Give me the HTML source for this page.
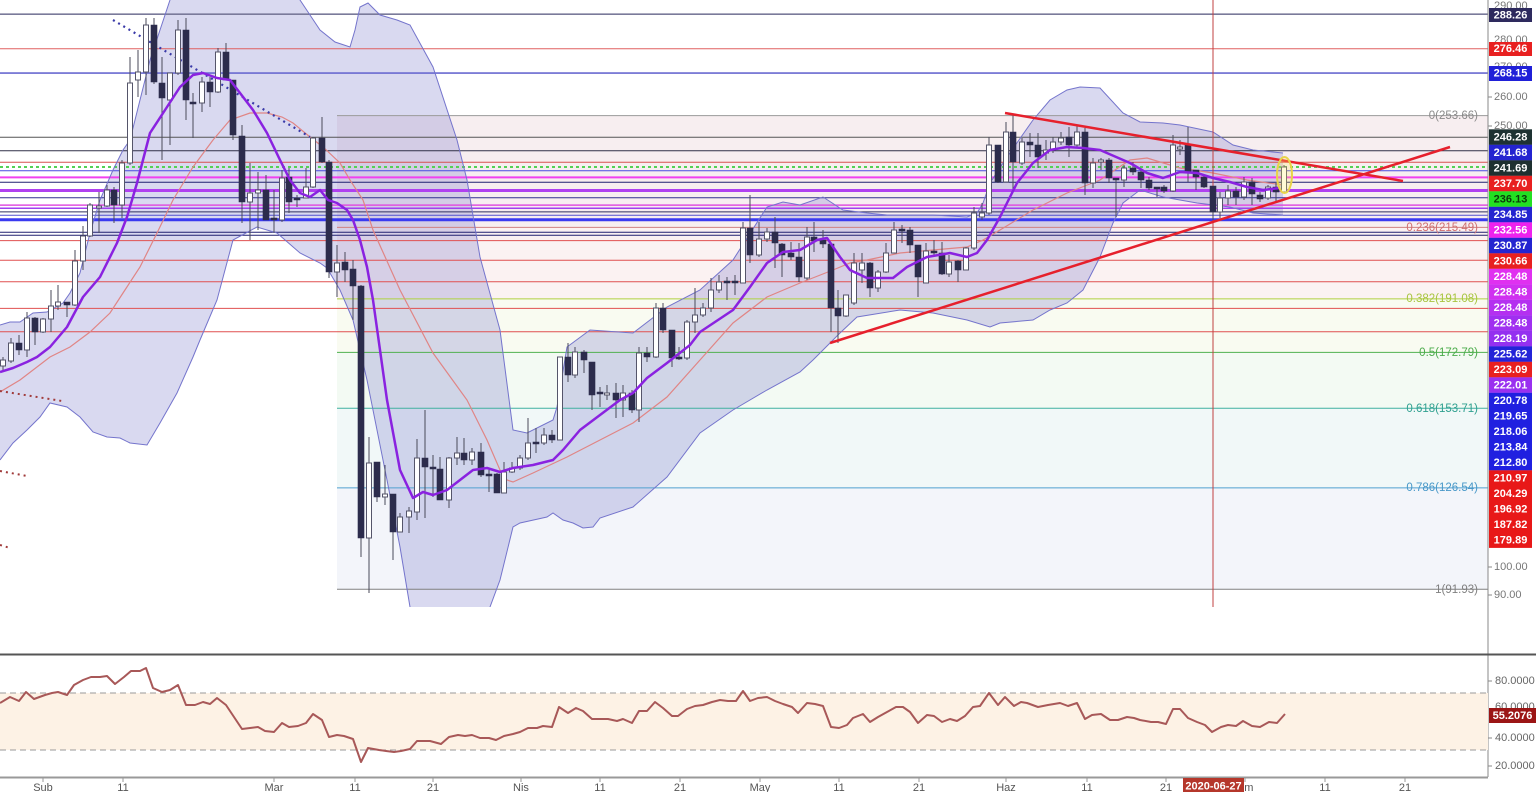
<!DOCTYPE html>
<html><head><meta charset="utf-8"><style>
html,body{margin:0;padding:0;background:#fff;width:1536px;height:792px;overflow:hidden}
svg{display:block;font-family:"Liberation Sans",Arial,sans-serif}
</style></head><body>
<svg width="1536" height="792" viewBox="0 0 1536 792" xmlns="http://www.w3.org/2000/svg">
<defs><clipPath id="mp"><rect x="0" y="0" width="1488" height="607"/></clipPath></defs>
<rect x="0" y="0" width="1536" height="792" fill="#fff"/>
<g clip-path="url(#mp)">
<!-- fib backgrounds -->
<rect x="337" y="115.6" width="1151" height="111.8" fill="#f7eef0"/>
<rect x="337" y="227.4" width="1151" height="71.5" fill="#fbf2f2"/>
<rect x="337" y="298.9" width="1151" height="53.5" fill="#f9fbf1"/>
<rect x="337" y="352.4" width="1151" height="55.9" fill="#f3faf3"/>
<rect x="337" y="408.3" width="1151" height="79.6" fill="#f1f8f8"/>
<rect x="337" y="487.9" width="1151" height="101.4" fill="#f3f5fa"/>
<!-- bollinger fill -->
<path fill="rgba(120,120,200,0.28)" stroke="none" d="M0 325L10 322L20 322L33 313L47 312L63 303L70 293L80 273L90 233L100 200L113 170L123 150L130 140L150 60L170 0L185 -30L200 -50L250 -50L290 -10L300 0L310 15L320 30L335 42L350 47L355 30L360 7L368 3L380 15L397 20L410 25L433 67L457 140L467 180L480 257L500 330L513 430L527 433L553 420L557 407L567 347L590 330L633 333L667 307L700 290L733 260L767 207L783 202L800 205L823 197L843 210L867 213L887 215L933 215L967 217L977 213L983 203L990 183L1007 157L1033 120L1050 100L1067 90L1080 87L1100 88L1123 113L1140 122L1163 123L1180 125L1213 132L1233 145L1253 150L1283 153L1283 215L1253 213L1230 207L1197 203L1163 197L1140 190L1123 203L1113 223L1100 257L1083 290L1067 303L1050 310L1033 320L1000 323L990 327L967 320L933 313L900 310L857 317L840 333L813 360L800 372L767 390L733 410L700 433L667 477L633 507L600 518L593 527L583 528L573 523L563 520L553 513L547 517L520 523L513 527L500 580L490 607L485 640L415 640L410 607L400 547L387 480L367 380L353 320L340 290L327 268L320 263L300 253L277 233L257 227L233 240L217 300L200 340L193 357L177 393L160 423L147 445L130 443L120 438L107 437L93 432L80 417L67 407L50 403L40 417L27 430L13 443L0 460Z"/>
<!-- horizontal levels -->
<g fill="none">
<path d="M0 14.2H1488" stroke="#7a7a9a" stroke-width="1.6"/>
<path d="M0 48.8H1488" stroke="#e06060" stroke-width="1"/>
<path d="M0 73.1H1488" stroke="#6a6ad0" stroke-width="1.6"/>
<path d="M0 137.2H1488" stroke="#555" stroke-width="1"/>
<path d="M0 150.7H1488" stroke="#303048" stroke-width="1"/>
<path d="M0 162.3H1488" stroke="#d85050" stroke-width="1"/>
<path d="M0 167H1488" stroke="#55d055" stroke-width="2" stroke-dasharray="3 3"/>
<path d="M0 170.7H1488" stroke="#4848e0" stroke-width="1"/>
<path d="M0 177.4H1488" stroke="#f040f0" stroke-width="2"/>
<path d="M0 182.3H1488" stroke="#202070" stroke-width="1"/>
<path d="M0 190.5H1488" stroke="#b040f0" stroke-width="3"/>
<path d="M0 197.7H1488" stroke="#303090" stroke-width="1"/>
<path d="M0 205.1H1488" stroke="#e050e0" stroke-width="1.5"/>
<path d="M0 208.3H1488" stroke="#a040f0" stroke-width="1.5"/>
<path d="M0 211.9H1488" stroke="#303060" stroke-width="1"/>
<path d="M0 215.2H1488" stroke="#5050d0" stroke-width="1"/>
<path d="M0 219.8H1488" stroke="#3a3af0" stroke-width="3"/>
<path d="M0 232.2H1488" stroke="#202070" stroke-width="1"/>
<path d="M0 235.2H1488" stroke="#202070" stroke-width="1"/>
<path d="M0 240.6H1488" stroke="#e05050" stroke-width="1"/>
<path d="M0 260.2H1488" stroke="#e05050" stroke-width="1"/>
<path d="M0 281.8H1488" stroke="#e05050" stroke-width="1"/>
<path d="M0 308.4H1488" stroke="#e05050" stroke-width="1"/>
<path d="M0 331.7H1488" stroke="#e05050" stroke-width="1"/>
<!-- fib lines -->
<path d="M337 115.6H1488" stroke="#9a9a9a" stroke-width="1"/>
<path d="M337 227.4H1488" stroke="#d08080" stroke-width="1"/>
<path d="M337 298.9H1488" stroke="#b0d040" stroke-width="1"/>
<path d="M337 352.4H1488" stroke="#50b050" stroke-width="1"/>
<path d="M337 408.3H1488" stroke="#40b0a0" stroke-width="1"/>
<path d="M337 487.9H1488" stroke="#50a0d0" stroke-width="1"/>
<path d="M337 589.3H1488" stroke="#808080" stroke-width="1"/>
</g>
<!-- band outlines -->
<path fill="none" stroke="#7474cc" stroke-width="1" d="M0 325L10 322L20 322L33 313L47 312L63 303L70 293L80 273L90 233L100 200L113 170L123 150L130 140L150 60L170 0L185 -30L200 -50L250 -50L290 -10L300 0L310 15L320 30L335 42L350 47L355 30L360 7L368 3L380 15L397 20L410 25L433 67L457 140L467 180L480 257L500 330L513 430L527 433L553 420L557 407L567 347L590 330L633 333L667 307L700 290L733 260L767 207L783 202L800 205L823 197L843 210L867 213L887 215L933 215L967 217L977 213L983 203L990 183L1007 157L1033 120L1050 100L1067 90L1080 87L1100 88L1123 113L1140 122L1163 123L1180 125L1213 132L1233 145L1253 150L1283 153"/>
<path fill="none" stroke="#7474cc" stroke-width="1" d="M0 460L13 443L27 430L40 417L50 403L67 407L80 417L93 432L107 437L120 438L130 443L147 445L160 423L177 393L193 357L200 340L217 300L233 240L257 227L277 233L300 253L320 263L327 268L340 290L353 320L367 380L387 480L400 547L410 607L415 640M485 640L490 607L500 580L513 527L520 523L547 517L553 513L563 520L573 523L583 528L593 527L600 518L633 507L667 477L700 433L733 410L767 390L800 372L813 360L840 333L857 317L900 310L933 313L967 320L990 327L1000 323L1033 320L1050 310L1067 303L1083 290L1100 257L1113 223L1123 203L1140 190L1163 197L1197 203L1230 207L1253 213L1283 215"/>
<!-- basis -->
<path fill="none" stroke="#e08585" stroke-width="1.2" d="M0 392L20 380L50 357L70 347L90 332L110 313L123 293L140 267L157 233L173 200L193 167L213 140L230 120L250 113L267 113L282 117L293 123L310 137L323 147L340 163L350 180L363 200L373 230L400 290L433 353L467 400L487 440L500 470L507 480L513 482L533 473L567 457L600 440L633 423L667 397L700 360L733 323L767 297L800 283L833 270L850 263L867 260L900 253L933 250L967 247L983 240L1000 230L1033 210L1067 193L1100 180L1130 160L1147 158L1180 168L1213 173L1247 180L1283 185"/>
<!-- dotted lines -->
<path d="M113 20L310 137" stroke="#3a3aa8" stroke-width="2.2" stroke-dasharray="2 4" fill="none"/>
<path d="M0 391L62 401M0 471L27 476M0 545L10 548" stroke="#a03a3a" stroke-width="2" stroke-dasharray="2 4" fill="none"/>
<!-- crosshair -->
<path d="M1213 0V607" stroke="#c04040" stroke-width="1"/>
<!-- wicks -->
<path fill="none" stroke="#4a4a5a" stroke-width="1" d="M3 357V370M11 338V363M19 335V355M27 312V357M35 317V345M43 318V333M51 290V332M58 285V310M67 302V317M75 250V306M83 226V270M90 203V237M99 192V233M107 185V207M114 187V223M122 160V218M130 57V165M138 50V97M146 18V95M154 18V84M162 57V160M170 73V145M178 20V75M186 18V120M193 93V138M202 77V112M210 77V107M218 48V93M226 43V80M233 80V140M242 125V223M250 163V240M258 172V230M266 175V220M274 190V233M282 170V222M289 168V213M297 195V207M306 168V198M313 137V188M322 117V163M329 160V278M337 245V297M345 252V282M353 260V320M361 285V557M369 437V593M377 462V502M385 465V505M393 494V560M400 513V532M409 507V533M417 439V520M425 410V518M433 455V497M440 457V500M449 457V508M457 437V465M464 438V465M472 448V465M481 443V477M489 470V492M497 473V493M504 462V493M512 462V473M520 455V470M528 418V460M536 428V453M544 428V445M552 430V443M560 357V440M568 343V382M575 347V378M584 350V373M592 362V410M600 387V407M607 385V400M616 383V418M623 385V417M632 390V413M639 347V422M647 347V362M656 303V358M663 303V333M672 330V367M679 347V360M687 320V360M695 288V333M703 303V317M711 278V312M719 275V293M727 277V300M735 275V295M743 222V283M750 195V263M759 222V257M767 228V242M775 217V268M782 243V277M791 242V260M799 243V282M807 227V280M814 222V252M823 230V248M831 244V332M838 290V343M846 295V317M854 253V305M862 253V283M870 262V297M878 270V292M886 243V273M894 222V253M902 225V243M910 227V253M918 245V297M926 243V283M934 240V257M942 242V275M949 255V277M958 260V282M966 247V270M974 207V250M982 203V220M989 137V215M998 145V183M1006 122V182M1013 115V193M1022 138V165M1030 133V157M1038 133V168M1046 140V160M1053 137V153M1061 132V145M1069 127V157M1077 125V147M1085 128V195M1093 158V188M1101 158V170M1109 158V183M1116 178V217M1124 165V187M1133 162V175M1141 170V188M1149 177V190M1157 187V197M1164 185V193M1173 135V192M1180 140V155M1188 127V182M1196 170V190M1204 175V188M1213 186V220M1220 192V218M1228 185V205M1236 187V205M1244 177V200M1252 178V205M1260 192V202M1268 185V200M1276 183V202M1284 165V192"/>
<!-- dark bodies -->
<path fill="#2c2c4c" stroke="#2c2c4c" stroke-width="0.6" d="M16 343h6v7h-6zM32 318h6v14h-6zM64 302h6v3h-6zM111 190h6v15h-6zM151 25h6v57h-6zM159 83h6v15h-6zM183 30h6v70h-6zM207 82h6v10h-6zM223 52h6v28h-6zM230 80h6v55h-6zM239 136h6v66h-6zM263 190h6v30h-6zM271 218h6v2h-6zM286 177h6v25h-6zM319 138h6v24h-6zM326 162h6v110h-6zM342 262h6v8h-6zM350 269h6v17h-6zM358 286h6v252h-6zM374 462h6v35h-6zM390 494h6v38h-6zM422 458h6v9h-6zM430 467h6v2h-6zM437 469h6v31h-6zM461 453h6v7h-6zM478 452h6v23h-6zM494 474h6v19h-6zM549 435h6v5h-6zM565 357h6v18h-6zM581 352h6v8h-6zM589 362h6v33h-6zM613 393h6v7h-6zM629 393h6v17h-6zM644 353h6v4h-6zM660 308h6v22h-6zM669 330h6v28h-6zM747 228h6v27h-6zM772 232h6v11h-6zM779 244h6v11h-6zM788 253h6v4h-6zM796 257h6v20h-6zM811 237h6v4h-6zM820 240h6v4h-6zM828 244h6v64h-6zM835 308h6v8h-6zM867 263h6v25h-6zM907 230h6v15h-6zM915 245h6v32h-6zM939 253h6v21h-6zM955 261h6v9h-6zM995 145h6v37h-6zM1010 132h6v30h-6zM1027 142h6v3h-6zM1035 145h6v12h-6zM1066 137h6v8h-6zM1082 132h6v51h-6zM1106 160h6v18h-6zM1130 168h6v4h-6zM1138 172h6v8h-6zM1146 180h6v8h-6zM1161 187h6v4h-6zM1185 145h6v27h-6zM1193 170h6v7h-6zM1201 177h6v10h-6zM1210 186h6v26h-6zM1233 191h6v6h-6zM1249 182h6v12h-6zM1257 195h6v4h-6zM1273 187h6v5h-6zM190 102h6v2h-6zM294 198h6v2h-6zM486 474h6v2h-6zM533 442h6v2h-6zM597 392h6v2h-6zM676 357h6v2h-6zM724 281h6v2h-6zM732 281h6v2h-6zM899 229h6v2h-6zM931 251h6v2h-6zM1113 178h6v2h-6zM1154 187h6v2h-6z"/>
<!-- white bodies -->
<path fill="#fff" stroke="#55556a" stroke-width="1" d="M0.5 360h5v6h-5zM8.5 343h5v18h-5zM24.5 318h5v32h-5zM40.5 319h5v13h-5zM48.5 306h5v13h-5zM55.5 302h5v4h-5zM72.5 261h5v44h-5zM80.5 236h5v25h-5zM87.5 205h5v31h-5zM96.5 206h5v2h-5zM104.5 190h5v16h-5zM119.5 163h5v42h-5zM127.5 83h5v80h-5zM135.5 72h5v8h-5zM143.5 25h5v47h-5zM167.5 73h5v27h-5zM175.5 30h5v43h-5zM199.5 82h5v21h-5zM215.5 52h5v40h-5zM247.5 193h5v9h-5zM255.5 190h5v3h-5zM279.5 178h5v42h-5zM303.5 187h5v11h-5zM310.5 138h5v49h-5zM334.5 263h5v9h-5zM366.5 463h5v75h-5zM382.5 494h5v3h-5zM397.5 517h5v15h-5zM406.5 511h5v6h-5zM414.5 458h5v54h-5zM446.5 458h5v42h-5zM454.5 453h5v5h-5zM469.5 452h5v8h-5zM501.5 472h5v21h-5zM509.5 468h5v4h-5zM517.5 458h5v10h-5zM525.5 443h5v15h-5zM541.5 435h5v8h-5zM557.5 357h5v83h-5zM572.5 352h5v23h-5zM604.5 393h5v2h-5zM620.5 393h5v7h-5zM636.5 353h5v57h-5zM653.5 308h5v49h-5zM684.5 322h5v36h-5zM692.5 315h5v7h-5zM700.5 308h5v7h-5zM708.5 290h5v18h-5zM716.5 282h5v8h-5zM740.5 228h5v55h-5zM756.5 239h5v16h-5zM764.5 232h5v7h-5zM804.5 237h5v41h-5zM843.5 295h5v21h-5zM851.5 263h5v40h-5zM859.5 263h5v7h-5zM875.5 272h5v16h-5zM883.5 253h5v19h-5zM891.5 230h5v23h-5zM923.5 251h5v32h-5zM946.5 262h5v12h-5zM963.5 248h5v22h-5zM971.5 213h5v35h-5zM979.5 213h5v4h-5zM986.5 145h5v68h-5zM1003.5 132h5v50h-5zM1019.5 142h5v21h-5zM1043.5 150h5v3h-5zM1050.5 142h5v8h-5zM1058.5 138h5v4h-5zM1074.5 132h5v13h-5zM1090.5 163h5v20h-5zM1098.5 160h5v2h-5zM1121.5 168h5v12h-5zM1170.5 145h5v46h-5zM1177.5 147h5v2h-5zM1217.5 198h5v14h-5zM1225.5 191h5v7h-5zM1241.5 182h5v15h-5zM1265.5 187h5v11h-5zM1281.5 167h5v25h-5z"/>
<!-- EMA purple -->
<path fill="none" stroke="#8a22e0" stroke-width="2.5" stroke-linejoin="round" d="M0 372L13 368L27 362L37 357L50 347L67 327L83 297L100 277L117 243L127 217L137 183L150 133L167 107L180 87L193 75L203 73L217 78L230 80L240 93L253 110L267 133L280 160L290 180L300 193L310 197L320 190L328 200L337 203L347 210L353 220L360 240L367 267L373 300L387 400L400 470L413 498L423 492L433 495L447 490L460 480L473 470L487 468L500 472L513 468L533 465L553 460L563 450L580 430L600 415L620 400L633 393L647 378L667 363L690 345L700 332L733 310L750 287L767 263L783 252L800 250L817 240L827 238L840 257L850 270L867 278L893 278L907 267L927 257L950 253L967 257L977 253L987 240L1000 217L1017 183L1033 163L1050 150L1067 147L1083 148L1100 150L1130 163L1147 173L1163 178L1180 172L1197 173L1213 178L1230 182L1247 187L1263 190L1280 188"/>
<!-- trend lines -->
<path d="M1005 113L1403 181M830 343L1450 147" stroke="#e6202c" stroke-width="2.5" fill="none"/>
<ellipse cx="1284.5" cy="175" rx="7.5" ry="18" fill="rgba(255,235,90,0.25)" stroke="#e8d448" stroke-width="2"/>
<!-- fib labels -->
<g font-size="11.5" text-anchor="end" dominant-baseline="middle">
<text x="1478" y="116" fill="#8a8a8a">0(253.66)</text>
<text x="1478" y="228" fill="#d07070">0.236(215.49)</text>
<text x="1478" y="299" fill="#a8c440">0.382(191.08)</text>
<text x="1478" y="353" fill="#4cac4c">0.5(172.79)</text>
<text x="1478" y="409" fill="#30a090">0.618(153.71)</text>
<text x="1478" y="488" fill="#4898c8">0.786(126.54)</text>
<text x="1478" y="590" fill="#808080">1(91.93)</text>
</g>
</g>
<!-- right axis -->
<path d="M1488 0V777" stroke="#888" stroke-width="1"/>
<g font-size="11" fill="#777" dominant-baseline="middle">
<text x="1494" y="6">290.00</text>
<text x="1494" y="40">280.00</text>
<text x="1494" y="67">270.00</text>
<text x="1494" y="97">260.00</text>
<text x="1494" y="126">250.00</text>
<text x="1494" y="567">100.00</text>
<text x="1494" y="595">90.00</text>
</g>
<g stroke="#888" stroke-width="1"><path d="M1488 97h4M1488 126h4M1488 567h4M1488 595h4"/></g>
<!-- price label boxes -->
<g>
<rect x="1489" y="8" width="43" height="14" fill="#2e2a5e"/>
<rect x="1489" y="42" width="43" height="14" fill="#e82020"/>
<rect x="1489" y="66" width="43" height="15" fill="#2020d8"/>
<rect x="1489" y="129.3" width="43" height="15.6" fill="#1e3232"/>
<rect x="1489" y="144.8" width="43" height="15.6" fill="#2424d0"/>
<rect x="1489" y="160.3" width="43" height="15.6" fill="#1e3030"/>
<rect x="1489" y="175.8" width="43" height="15.6" fill="#e82020"/>
<rect x="1489" y="191.3" width="43" height="15.6" fill="#22e022"/>
<rect x="1489" y="206.8" width="43" height="15.6" fill="#2424d0"/>
<rect x="1489" y="222.3" width="43" height="15.6" fill="#ee22ee"/>
<rect x="1489" y="237.8" width="43" height="15.6" fill="#2424d0"/>
<rect x="1489" y="253.3" width="43" height="15.6" fill="#e82020"/>
<rect x="1489" y="268.8" width="43" height="15.6" fill="#e030f0"/>
<rect x="1489" y="284.3" width="43" height="15.6" fill="#d030f0"/>
<rect x="1489" y="299.8" width="43" height="15.6" fill="#b430f0"/>
<rect x="1489" y="315.3" width="43" height="15.6" fill="#a030f0"/>
<rect x="1489" y="330.8" width="43" height="15.6" fill="#9430f0"/>
<rect x="1489" y="346.3" width="43" height="15.6" fill="#2424d8"/>
<rect x="1489" y="361.8" width="43" height="15.6" fill="#e82020"/>
<rect x="1489" y="377.3" width="43" height="15.6" fill="#9a30f0"/>
<rect x="1489" y="392.8" width="43" height="77.6" fill="#2020e0"/>
<rect x="1489" y="470.3" width="43" height="77.6" fill="#e81818"/>
</g>
<g font-size="11" font-weight="bold" fill="#fff" text-anchor="middle" dominant-baseline="middle">
<text x="1510.5" y="15.5">288.26</text>
<text x="1510.5" y="49">276.46</text>
<text x="1510.5" y="73.5">268.15</text>
<text x="1510.5" y="137.5">246.28</text>
<text x="1510.5" y="153">241.68</text>
<text x="1510.5" y="168.5">241.69</text>
<text x="1510.5" y="184">237.70</text>
<text x="1510.5" y="199.5" fill="#0c3a0c">236.13</text>
<text x="1510.5" y="215">234.85</text>
<text x="1510.5" y="230.5">232.56</text>
<text x="1510.5" y="246">230.87</text>
<text x="1510.5" y="261.5">230.66</text>
<text x="1510.5" y="277">228.48</text>
<text x="1510.5" y="292.5">228.48</text>
<text x="1510.5" y="308">228.48</text>
<text x="1510.5" y="323.5">228.48</text>
<text x="1510.5" y="339">228.19</text>
<text x="1510.5" y="354.5">225.62</text>
<text x="1510.5" y="370">223.09</text>
<text x="1510.5" y="385.5">222.01</text>
<text x="1510.5" y="401">220.78</text>
<text x="1510.5" y="416.5">219.65</text>
<text x="1510.5" y="432">218.06</text>
<text x="1510.5" y="447.5">213.84</text>
<text x="1510.5" y="463">212.80</text>
<text x="1510.5" y="478.5">210.97</text>
<text x="1510.5" y="494">204.29</text>
<text x="1510.5" y="509.5">196.92</text>
<text x="1510.5" y="525">187.82</text>
<text x="1510.5" y="540.5">179.89</text>
</g>
<!-- RSI panel -->
<path d="M0 654.5H1536" stroke="#555" stroke-width="2"/>
<rect x="0" y="693" width="1488" height="57" fill="#fdf2e5"/>
<path d="M0 693H1488M0 750H1488" stroke="#9a9a9a" stroke-width="1" stroke-dasharray="6 4"/>
<polyline fill="none" stroke="#a85858" stroke-width="2" stroke-linejoin="round" points="0,703 10,697 19,701 26,692 34,699 45,695 52,693 58,692 67,695 74,685 83,680 91,677 100,677 107,676 115,684 124,677 131,671 140,671 146,668 153,688 162,692 170,690 178,685 186,705 195,705 203,702 210,704 217,698 226,705 234,717 242,729 250,728 258,727 265,731 274,732 282,723 289,727 298,726 306,723 313,714 322,720 329,737 337,735 344,736 353,739 361,762 368,748 379,750 386,751 394,752 401,751 410,749 417,741 430,741 441,744 449,737 458,735 465,736 472,735 480,738 489,738 496,740 504,736 513,734 520,732 528,728 537,728 543,726 552,727 559,707 568,713 576,708 583,711 592,719 600,719 608,719 617,721 623,719 632,723 639,711 647,711 655,702 663,708 672,716 678,716 687,709 695,706 703,705 712,702 720,700 728,701 736,701 743,691 750,701 758,698 767,697 775,701 783,704 792,707 798,713 807,703 815,704 823,706 831,727 839,728 847,725 853,718 863,714 870,722 878,717 887,712 896,707 903,707 910,712 918,723 927,715 934,716 942,722 950,719 957,721 965,716 973,707 980,706 989,693 998,705 1005,697 1014,706 1021,702 1027,703 1038,707 1048,705 1060,703 1068,706 1077,703 1085,719 1092,715 1101,714 1110,720 1118,720 1127,717 1134,718 1140,720 1151,722 1158,722 1166,724 1173,709 1180,709 1188,718 1197,722 1205,725 1212,732 1221,727 1228,725 1236,726 1243,721 1252,726 1260,727 1269,722 1277,723 1285,714"/>
<g font-size="11" fill="#666" dominant-baseline="middle">
<text x="1495" y="681">80.0000</text>
<text x="1495" y="707">60.0000</text>
<text x="1495" y="738">40.0000</text>
<text x="1495" y="766">20.0000</text>
</g>
<path d="M1488 681h4M1488 738h4M1488 766h4" stroke="#888"/>
<rect x="1489" y="708" width="47" height="15" fill="#9b1515"/>
<text x="1512.5" y="716" font-size="11" font-weight="bold" fill="#fff" text-anchor="middle" dominant-baseline="middle">55.2076</text>
<!-- time axis -->
<path d="M0 777.5H1488" stroke="#999" stroke-width="2"/>
<path stroke="#999" stroke-width="1" d="M43 777V782M123 777V782M274 777V782M355 777V782M433 777V782M521 777V782M600 777V782M680 777V782M760 777V782M839 777V782M919 777V782M1006 777V782M1087 777V782M1166 777V782M1245 777V782M1325 777V782M1405 777V782"/>
<g font-size="11" fill="#555" text-anchor="middle">
<text x="43" y="791">Sub</text>
<text x="123" y="791">11</text>
<text x="274" y="791">Mar</text>
<text x="355" y="791">11</text>
<text x="433" y="791">21</text>
<text x="521" y="791">Nis</text>
<text x="600" y="791">11</text>
<text x="680" y="791">21</text>
<text x="760" y="791">May</text>
<text x="839" y="791">11</text>
<text x="919" y="791">21</text>
<text x="1006" y="791">Haz</text>
<text x="1087" y="791">11</text>
<text x="1166" y="791">21</text>
<text x="1243" y="791">Tem</text>
<text x="1325" y="791">11</text>
<text x="1405" y="791">21</text>
</g>
<rect x="1183" y="778" width="61" height="14" fill="#b5372b"/>
<text x="1213.5" y="789.5" font-size="11" font-weight="bold" fill="#fff" text-anchor="middle">2020-06-27</text>
</svg>
</body></html>
